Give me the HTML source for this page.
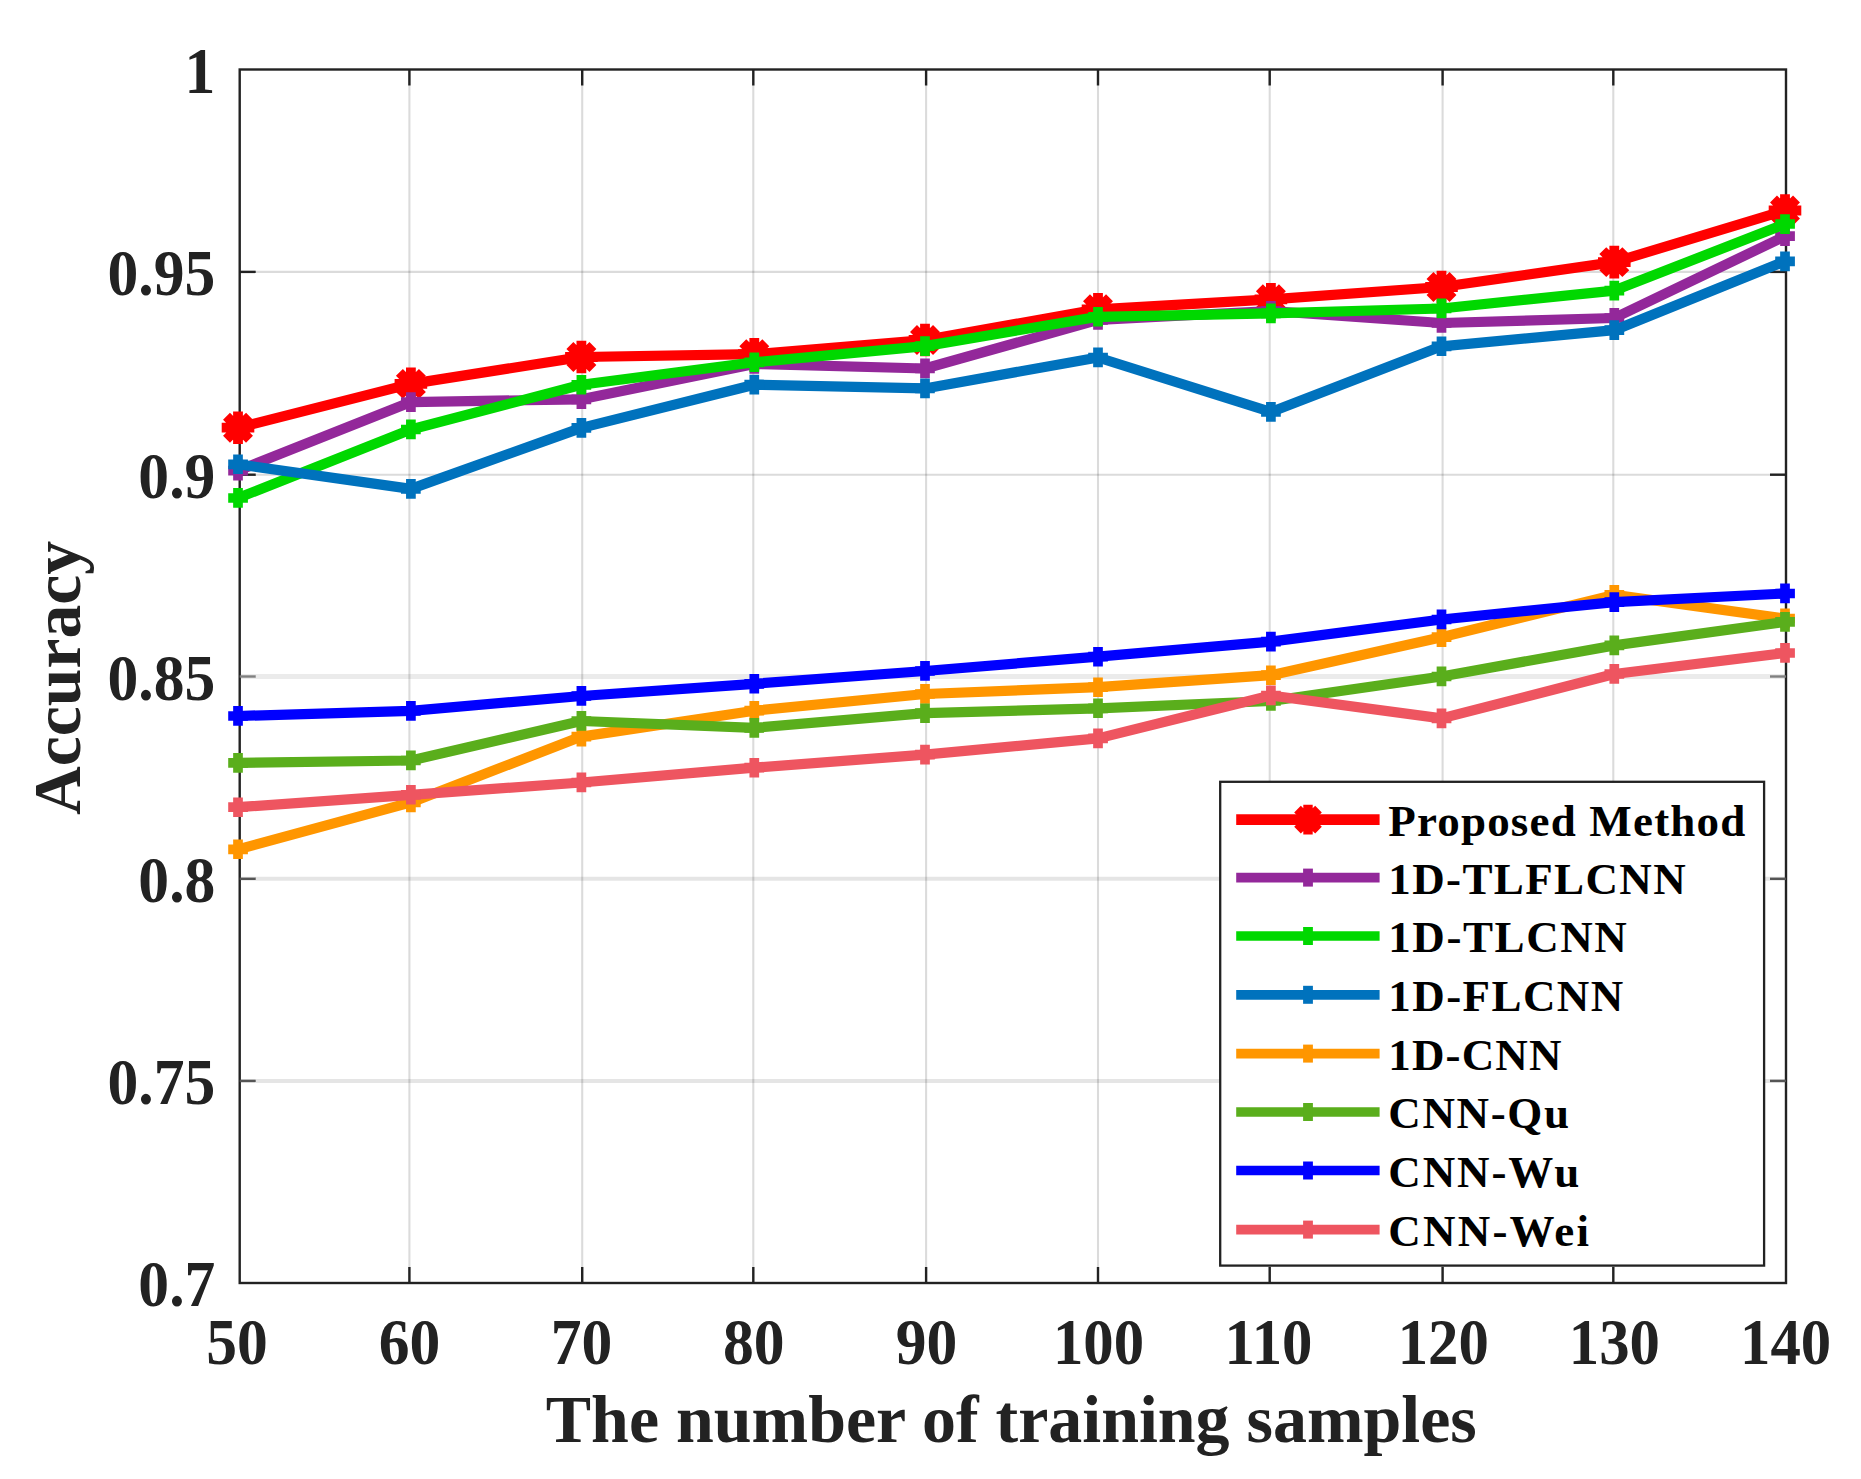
<!DOCTYPE html>
<html lang="en"><head><meta charset="utf-8"><title>Accuracy vs number of training samples</title>
<style>html,body{margin:0;padding:0;background:#fff}body{width:1861px;height:1479px;overflow:hidden}svg{display:block}text{font-family:"Liberation Serif",serif;font-weight:bold;fill:#222}</style></head><body>
<svg width="1861" height="1479" viewBox="0 0 1861 1479">
<rect x="0" y="0" width="1861" height="1479" fill="#fff"/>
<g stroke="#000" stroke-opacity="0.14" stroke-width="2.1" fill="none">
<line x1="409.4" y1="69.5" x2="409.4" y2="1283.0"/>
<line x1="582.2" y1="69.5" x2="582.2" y2="1283.0"/>
<line x1="753.3" y1="69.5" x2="753.3" y2="1283.0"/>
<line x1="926.1" y1="69.5" x2="926.1" y2="1283.0"/>
<line x1="1098.0" y1="69.5" x2="1098.0" y2="1283.0"/>
<line x1="1269.7" y1="69.5" x2="1269.7" y2="1283.0"/>
<line x1="1442.6" y1="69.5" x2="1442.6" y2="1283.0"/>
<line x1="1613.3" y1="69.5" x2="1613.3" y2="1283.0"/>
<line x1="239.7" y1="271.9" x2="1786.0" y2="271.9"/>
<line x1="239.7" y1="474.7" x2="1786.0" y2="474.7"/>
<line x1="239.7" y1="676.5" x2="1786.0" y2="676.5" stroke-opacity="0.08" stroke-width="5"/>
<line x1="239.7" y1="878.8" x2="1786.0" y2="878.8" stroke-opacity="0.10" stroke-width="4"/>
<line x1="239.7" y1="1080.9" x2="1786.0" y2="1080.9" stroke-opacity="0.10" stroke-width="4"/>
</g>
<g stroke="#222" stroke-width="2.4" fill="none">
<rect x="239.7" y="69.5" width="1546.3" height="1213.5"/>
<line x1="409.4" y1="69.5" x2="409.4" y2="85.5"/>
<line x1="409.4" y1="1283.0" x2="409.4" y2="1267.0"/>
<line x1="582.2" y1="69.5" x2="582.2" y2="85.5"/>
<line x1="582.2" y1="1283.0" x2="582.2" y2="1267.0"/>
<line x1="753.3" y1="69.5" x2="753.3" y2="85.5"/>
<line x1="753.3" y1="1283.0" x2="753.3" y2="1267.0"/>
<line x1="926.1" y1="69.5" x2="926.1" y2="85.5"/>
<line x1="926.1" y1="1283.0" x2="926.1" y2="1267.0"/>
<line x1="1098.0" y1="69.5" x2="1098.0" y2="85.5"/>
<line x1="1098.0" y1="1283.0" x2="1098.0" y2="1267.0"/>
<line x1="1269.7" y1="69.5" x2="1269.7" y2="85.5"/>
<line x1="1269.7" y1="1283.0" x2="1269.7" y2="1267.0"/>
<line x1="1442.6" y1="69.5" x2="1442.6" y2="85.5"/>
<line x1="1442.6" y1="1283.0" x2="1442.6" y2="1267.0"/>
<line x1="1613.3" y1="69.5" x2="1613.3" y2="85.5"/>
<line x1="1613.3" y1="1283.0" x2="1613.3" y2="1267.0"/>
<line x1="239.7" y1="271.9" x2="255.7" y2="271.9"/>
<line x1="1786.0" y1="271.9" x2="1770.0" y2="271.9"/>
<line x1="239.7" y1="474.7" x2="255.7" y2="474.7"/>
<line x1="1786.0" y1="474.7" x2="1770.0" y2="474.7"/>
<line x1="239.7" y1="676.5" x2="255.7" y2="676.5" stroke="#808080"/>
<line x1="1786.0" y1="676.5" x2="1770.0" y2="676.5" stroke="#808080"/>
<line x1="239.7" y1="878.8" x2="255.7" y2="878.8" stroke="#555"/>
<line x1="1786.0" y1="878.8" x2="1770.0" y2="878.8" stroke="#555"/>
<line x1="239.7" y1="1080.9" x2="255.7" y2="1080.9" stroke="#555"/>
<line x1="1786.0" y1="1080.9" x2="1770.0" y2="1080.9" stroke="#555"/>
</g>
<g stroke="#ff0000" fill="none" stroke-width="10.2" stroke-linejoin="round">
<polyline points="238.0,427.7 410.9,383.9 581.4,357.0 754.3,354.2 925.0,340.0 1098.0,309.3 1270.9,299.3 1441.5,287.0 1614.3,262.1 1785.0,210.5"/>
<path d="M238.0 411.4v32.6M221.7 427.7h32.6M226.5 416.2l23 23M226.5 439.2l23 -23M410.9 367.6v32.6M394.6 383.9h32.6M399.4 372.4l23 23M399.4 395.4l23 -23M581.4 340.7v32.6M565.1 357.0h32.6M569.9 345.5l23 23M569.9 368.5l23 -23M754.3 337.9v32.6M738.0 354.2h32.6M742.8 342.7l23 23M742.8 365.7l23 -23M925.0 323.7v32.6M908.7 340.0h32.6M913.5 328.5l23 23M913.5 351.5l23 -23M1098.0 293.0v32.6M1081.7 309.3h32.6M1086.5 297.8l23 23M1086.5 320.8l23 -23M1270.9 283.0v32.6M1254.6 299.3h32.6M1259.4 287.8l23 23M1259.4 310.8l23 -23M1441.5 270.7v32.6M1425.2 287.0h32.6M1430.0 275.5l23 23M1430.0 298.5l23 -23M1614.3 245.8v32.6M1598.0 262.1h32.6M1602.8 250.6l23 23M1602.8 273.6l23 -23M1785.0 194.2v32.6M1768.7 210.5h32.6M1773.5 199.0l23 23M1773.5 222.0l23 -23" stroke-width="9.8"/>
</g>
<g stroke="#93289a" fill="none" stroke-width="10.2" stroke-linejoin="round">
<polyline points="238.0,470.7 410.9,402.1 581.4,399.3 754.3,364.0 925.0,368.5 1098.0,319.9 1270.9,311.0 1441.5,323.0 1614.3,318.0 1785.0,236.2"/>
<path d="M238.0 460.8v19.7M228.2 470.7h19.7M410.9 392.2v19.7M401.0 402.1h19.7M581.4 389.4v19.7M571.5 399.3h19.7M754.3 354.1v19.7M744.4 364.0h19.7M925.0 358.6v19.7M915.1 368.5h19.7M1098.0 310.0v19.7M1088.2 319.9h19.7M1270.9 301.1v19.7M1261.1 311.0h19.7M1441.5 313.1v19.7M1431.7 323.0h19.7M1614.3 308.1v19.7M1604.5 318.0h19.7M1785.0 226.3v19.7M1775.2 236.2h19.7" stroke-width="9.7"/>
</g>
<g stroke="#00d800" fill="none" stroke-width="10.2" stroke-linejoin="round">
<polyline points="238.0,498.0 410.9,429.5 581.4,384.8 754.3,362.3 925.0,346.1 1098.0,316.8 1270.9,313.4 1441.5,308.5 1614.3,290.6 1785.0,224.0"/>
<path d="M238.0 488.1v19.7M228.2 498.0h19.7M410.9 419.6v19.7M401.0 429.5h19.7M581.4 374.9v19.7M571.5 384.8h19.7M754.3 352.4v19.7M744.4 362.3h19.7M925.0 336.2v19.7M915.1 346.1h19.7M1098.0 306.9v19.7M1088.2 316.8h19.7M1270.9 303.5v19.7M1261.1 313.4h19.7M1441.5 298.6v19.7M1431.7 308.5h19.7M1614.3 280.8v19.7M1604.5 290.6h19.7M1785.0 214.2v19.7M1775.2 224.0h19.7" stroke-width="9.7"/>
</g>
<g stroke="#0072bd" fill="none" stroke-width="10.2" stroke-linejoin="round">
<polyline points="238.0,464.3 410.9,488.9 581.4,427.9 754.3,384.7 925.0,388.4 1098.0,357.5 1270.9,412.0 1441.5,346.3 1614.3,330.2 1785.0,261.3"/>
<path d="M238.0 454.4v19.7M228.2 464.3h19.7M410.9 479.0v19.7M401.0 488.9h19.7M581.4 418.0v19.7M571.5 427.9h19.7M754.3 374.8v19.7M744.4 384.7h19.7M925.0 378.5v19.7M915.1 388.4h19.7M1098.0 347.6v19.7M1088.2 357.5h19.7M1270.9 402.1v19.7M1261.1 412.0h19.7M1441.5 336.4v19.7M1431.7 346.3h19.7M1614.3 320.3v19.7M1604.5 330.2h19.7M1785.0 251.5v19.7M1775.2 261.3h19.7" stroke-width="9.7"/>
</g>
<g stroke="#ff9600" fill="none" stroke-width="10.2" stroke-linejoin="round">
<polyline points="238.0,849.3 410.9,802.4 581.4,736.6 754.3,710.7 925.0,694.0 1098.0,687.2 1270.9,675.2 1441.5,637.2 1614.3,594.9 1785.0,618.5"/>
<path d="M238.0 839.4v19.7M228.2 849.3h19.7M410.9 792.5v19.7M401.0 802.4h19.7M581.4 726.8v19.7M571.5 736.6h19.7M754.3 700.9v19.7M744.4 710.7h19.7M925.0 684.1v19.7M915.1 694.0h19.7M1098.0 677.4v19.7M1088.2 687.2h19.7M1270.9 665.4v19.7M1261.1 675.2h19.7M1441.5 627.4v19.7M1431.7 637.2h19.7M1614.3 585.0v19.7M1604.5 594.9h19.7M1785.0 608.6v19.7M1775.2 618.5h19.7" stroke-width="9.7"/>
</g>
<g stroke="#5aae1c" fill="none" stroke-width="10.2" stroke-linejoin="round">
<polyline points="238.0,762.9 410.9,760.5 581.4,721.0 754.3,727.9 925.0,713.2 1098.0,708.3 1270.9,701.0 1441.5,676.5 1614.3,645.4 1785.0,621.9"/>
<path d="M238.0 753.0v19.7M228.2 762.9h19.7M410.9 750.6v19.7M401.0 760.5h19.7M581.4 711.1v19.7M571.5 721.0h19.7M754.3 718.0v19.7M744.4 727.9h19.7M925.0 703.4v19.7M915.1 713.2h19.7M1098.0 698.4v19.7M1088.2 708.3h19.7M1270.9 691.1v19.7M1261.1 701.0h19.7M1441.5 666.6v19.7M1431.7 676.5h19.7M1614.3 635.5v19.7M1604.5 645.4h19.7M1785.0 612.0v19.7M1775.2 621.9h19.7" stroke-width="9.7"/>
</g>
<g stroke="#0000ff" fill="none" stroke-width="10.2" stroke-linejoin="round">
<polyline points="238.0,716.0 410.9,710.9 581.4,696.0 754.3,683.8 925.0,671.0 1098.0,656.7 1270.9,641.6 1441.5,619.5 1614.3,602.1 1785.0,593.5"/>
<path d="M238.0 706.1v19.7M228.2 716.0h19.7M410.9 701.0v19.7M401.0 710.9h19.7M581.4 686.1v19.7M571.5 696.0h19.7M754.3 673.9v19.7M744.4 683.8h19.7M925.0 661.1v19.7M915.1 671.0h19.7M1098.0 646.9v19.7M1088.2 656.7h19.7M1270.9 631.8v19.7M1261.1 641.6h19.7M1441.5 609.6v19.7M1431.7 619.5h19.7M1614.3 592.2v19.7M1604.5 602.1h19.7M1785.0 583.6v19.7M1775.2 593.5h19.7" stroke-width="9.7"/>
</g>
<g stroke="#ee5560" fill="none" stroke-width="10.2" stroke-linejoin="round">
<polyline points="238.0,807.2 410.9,794.8 581.4,782.5 754.3,767.7 925.0,754.6 1098.0,738.4 1270.9,695.5 1441.5,718.4 1614.3,674.0 1785.0,653.0"/>
<path d="M238.0 797.4v19.7M228.2 807.2h19.7M410.9 784.9v19.7M401.0 794.8h19.7M581.4 772.6v19.7M571.5 782.5h19.7M754.3 757.9v19.7M744.4 767.7h19.7M925.0 744.8v19.7M915.1 754.6h19.7M1098.0 728.5v19.7M1088.2 738.4h19.7M1270.9 685.6v19.7M1261.1 695.5h19.7M1441.5 708.5v19.7M1431.7 718.4h19.7M1614.3 664.1v19.7M1604.5 674.0h19.7M1785.0 643.1v19.7M1775.2 653.0h19.7" stroke-width="9.7"/>
</g>
<rect x="1220.2" y="781.8" width="543.9" height="483.8" fill="#fff" stroke="#222" stroke-width="2.3"/>
<line x1="1236.2" y1="819.6" x2="1379.6" y2="819.6" stroke="#ff0000" stroke-width="10.6"/>
<path d="M1308 804.8v29.6M1293.2 819.6h29.6M1297.5 809.1l21 21M1297.5 830.1l21 -21" stroke="#ff0000" stroke-width="9.4" fill="none"/>
<text x="1388.3" y="835.6" font-size="45" letter-spacing="1.18" style="fill:#000">Proposed Method</text>
<line x1="1236.2" y1="877.6" x2="1379.6" y2="877.6" stroke="#93289a" stroke-width="9.7"/>
<line x1="1308" y1="868.6" x2="1308" y2="886.6" stroke="#93289a" stroke-width="9.8"/>
<text x="1388.3" y="893.6" font-size="45" letter-spacing="1.37" style="fill:#000">1D-TLFLCNN</text>
<line x1="1236.2" y1="936.0" x2="1379.6" y2="936.0" stroke="#00d800" stroke-width="9.7"/>
<line x1="1308" y1="927.0" x2="1308" y2="945.0" stroke="#00d800" stroke-width="9.8"/>
<text x="1388.3" y="952.0" font-size="45" letter-spacing="1.57" style="fill:#000">1D-TLCNN</text>
<line x1="1236.2" y1="994.8" x2="1379.6" y2="994.8" stroke="#0072bd" stroke-width="9.7"/>
<line x1="1308" y1="985.8" x2="1308" y2="1003.8" stroke="#0072bd" stroke-width="9.8"/>
<text x="1388.3" y="1010.8" font-size="45" letter-spacing="1.43" style="fill:#000">1D-FLCNN</text>
<line x1="1236.2" y1="1053.6" x2="1379.6" y2="1053.6" stroke="#ff9600" stroke-width="9.7"/>
<line x1="1308" y1="1044.6" x2="1308" y2="1062.6" stroke="#ff9600" stroke-width="9.8"/>
<text x="1388.3" y="1069.6" font-size="45" letter-spacing="1.14" style="fill:#000">1D-CNN</text>
<line x1="1236.2" y1="1112.0" x2="1379.6" y2="1112.0" stroke="#5aae1c" stroke-width="9.7"/>
<line x1="1308" y1="1103.0" x2="1308" y2="1121.0" stroke="#5aae1c" stroke-width="9.8"/>
<text x="1388.3" y="1128.0" font-size="45" letter-spacing="1.64" style="fill:#000">CNN-Qu</text>
<line x1="1236.2" y1="1170.5" x2="1379.6" y2="1170.5" stroke="#0000ff" stroke-width="9.7"/>
<line x1="1308" y1="1161.5" x2="1308" y2="1179.5" stroke="#0000ff" stroke-width="9.8"/>
<text x="1388.3" y="1186.5" font-size="45" letter-spacing="1.88" style="fill:#000">CNN-Wu</text>
<line x1="1236.2" y1="1229.6" x2="1379.6" y2="1229.6" stroke="#ee5560" stroke-width="9.7"/>
<line x1="1308" y1="1220.6" x2="1308" y2="1238.6" stroke="#ee5560" stroke-width="9.8"/>
<text x="1388.3" y="1245.6" font-size="45" letter-spacing="2.20" style="fill:#000">CNN-Wei</text>
<text transform="translate(237.1,1364) scale(0.933,1)" font-size="66" text-anchor="middle">50</text>
<text transform="translate(409.6,1364) scale(0.933,1)" font-size="66" text-anchor="middle">60</text>
<text transform="translate(581.6,1364) scale(0.933,1)" font-size="66" text-anchor="middle">70</text>
<text transform="translate(753.7,1364) scale(0.933,1)" font-size="66" text-anchor="middle">80</text>
<text transform="translate(926.5,1364) scale(0.933,1)" font-size="66" text-anchor="middle">90</text>
<text transform="translate(1098.5,1364) scale(0.921,1)" font-size="66" text-anchor="middle">100</text>
<text transform="translate(1268.5,1364) scale(0.921,1)" font-size="66" text-anchor="middle">110</text>
<text transform="translate(1443.3,1364) scale(0.921,1)" font-size="66" text-anchor="middle">120</text>
<text transform="translate(1614.4,1364) scale(0.921,1)" font-size="66" text-anchor="middle">130</text>
<text transform="translate(1785.6,1364) scale(0.921,1)" font-size="66" text-anchor="middle">140</text>
<text transform="translate(215.3,92.5) scale(0.933,1)" font-size="66" text-anchor="end">1</text>
<text transform="translate(215.3,294.9) scale(0.933,1)" font-size="66" text-anchor="end">0.95</text>
<text transform="translate(215.3,497.7) scale(0.933,1)" font-size="66" text-anchor="end">0.9</text>
<text transform="translate(215.3,699.5) scale(0.933,1)" font-size="66" text-anchor="end">0.85</text>
<text transform="translate(215.3,901.8) scale(0.933,1)" font-size="66" text-anchor="end">0.8</text>
<text transform="translate(215.3,1103.9) scale(0.933,1)" font-size="66" text-anchor="end">0.75</text>
<text transform="translate(215.3,1306.0) scale(0.933,1)" font-size="66" text-anchor="end">0.7</text>
<text x="1011.3" y="1442" font-size="68" text-anchor="middle" textLength="931" lengthAdjust="spacingAndGlyphs">The number of training samples</text>
<text transform="translate(80.1,678) rotate(-90)" font-size="68" text-anchor="middle" textLength="274" lengthAdjust="spacingAndGlyphs">Accuracy</text>
</svg></body></html>
